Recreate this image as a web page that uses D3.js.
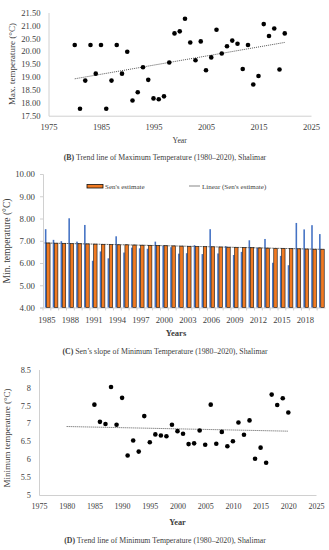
<!DOCTYPE html>
<html><head><meta charset="utf-8">
<script src="https://cdn.jsdelivr.net/npm/d3@7"></script>
<style>
html,body{margin:0;padding:0;background:#fff;}
svg text{font-family:"Liberation Serif","Times New Roman",serif;fill:#404040;}
</style></head>
<body><svg id="c" width="329" height="550"></svg>
<script>
// Panel B: maximum temperature 1980-2020
const yearsB = d3.range(1980, 2021);
const maxTemp = [20.24,17.77,18.86,20.24,19.13,20.24,17.77,18.86,20.24,19.13,
  19.98,18.09,18.41,19.38,18.89,18.17,18.14,18.25,19.56,20.69,
  20.77,21.26,20.34,19.65,20.38,19.26,19.76,20.83,19.91,20.19,
  20.41,20.29,19.31,20.24,18.71,19.04,21.05,20.59,20.88,19.29,20.69];
const trendB = [18.93, 20.34]; // 1980, 2020
const xTicksB = [1975,1985,1995,2005,2015,2025];
const yTicksB = [17.5,18,18.5,19,19.5,20,20.5,21,21.5];

// Panel C/D: minimum temperature 1985-2020
const yearsMin = d3.range(1985, 2021);
const minTemp = [7.52,7.04,6.98,8.01,6.96,7.71,6.10,6.52,6.21,7.20,
  6.47,6.69,6.66,6.64,6.96,6.78,6.71,6.42,6.44,6.80,
  6.40,7.52,6.43,6.76,6.36,6.50,7.02,6.68,7.08,6.01,
  6.32,5.90,7.80,7.51,7.70,7.30];
const sens = [6.90,6.89,6.88,6.87,6.87,6.86,6.85,6.84,6.83,6.82,
  6.82,6.81,6.80,6.79,6.78,6.78,6.77,6.76,6.75,6.74,
  6.74,6.73,6.72,6.71,6.70,6.70,6.69,6.68,6.67,6.66,
  6.66,6.65,6.64,6.63,6.62,6.62];
const yTicksC = [4,5,6,7,8,9,10];
const xLabelsC = [1985,1988,1991,1994,1997,2000,2003,2006,2009,2012,2015,2018];
const trendD = [6.91, 6.78]; // 1980, 2020
const trendYearsD = [1980, 2020];
const xTicksD = [1975,1980,1985,1990,1995,2000,2005,2010,2015,2020,2025];
const yTicksD = [5,5.5,6,6.5,7,7.5,8,8.5];

const svg = d3.select("#c");
const axisCol = "#d0d0d0";

function styleAxis(g, fs){
  g.selectAll(".domain").attr("stroke", axisCol);
  g.selectAll(".tick line").attr("stroke", axisCol);
  g.selectAll("text").attr("font-size", fs).attr("fill","#404040")
   .style("font-family",'"Liberation Serif","Times New Roman",serif');
}

// ---------- Panel B ----------
{
  const x = d3.scaleLinear().domain([1975,2025]).range([48.5,311]);
  const y = d3.scaleLinear().domain([17.5,21.5]).range([115.7,12.5]);
  const gy = svg.append("g").attr("transform","translate(48.5,0)")
    .call(d3.axisLeft(y).tickValues(yTicksB).tickFormat(d3.format(".2f")).tickSize(0).tickPadding(8));
  styleAxis(gy, 8.6);
  const gx = svg.append("g").attr("transform","translate(0,115.7)")
    .call(d3.axisBottom(x).tickValues(xTicksB).tickFormat(d3.format("d")).tickSize(0).tickPadding(8));
  styleAxis(gx, 8.6);
  svg.append("line").attr("x1",x(1980)).attr("x2",x(2020)).attr("y1",y(trendB[0])).attr("y2",y(trendB[1]))
    .attr("stroke","#555").attr("stroke-width",1).attr("stroke-dasharray","1,1");
  svg.append("g").selectAll("circle").data(yearsB).join("circle")
    .attr("cx",d=>x(d)).attr("cy",(d,i)=>y(maxTemp[i])).attr("r",2.3).attr("fill","#000");
  svg.append("text").attr("transform","translate(15,64) rotate(-90)").attr("text-anchor","middle")
    .attr("font-size",9).text("Max. temperature (°C)");
  svg.append("text").attr("x",x(2000)).attr("y",143).attr("text-anchor","middle").attr("font-size",7.8).text("Year");
  const cap = svg.append("text").attr("x",165).attr("y",160).attr("text-anchor","middle").attr("font-size",7.8);
  cap.append("tspan").attr("font-weight","bold").text("(B)");
  cap.append("tspan").text(" Trend line of Maximum Temperature (1980–2020), Shalimar");
}

// ---------- Panel C ----------
{
  const x = d3.scaleBand().domain(yearsMin).range([43,325]);
  const y = d3.scaleLinear().domain([4,10]).range([307.5,174]);
  const gy = svg.append("g").attr("transform","translate(43,0)")
    .call(d3.axisLeft(y).tickValues(yTicksC).tickFormat(d3.format(".2f")).tickSize(3).tickPadding(5));
  styleAxis(gy, 8.8);
  const gx = svg.append("g").attr("transform","translate(0,307.5)")
    .call(d3.axisBottom(x).tickValues(xLabelsC).tickFormat(d3.format("d")).tickSize(0).tickPadding(9));
  styleAxis(gx, 8.6);
  // category boundary ticks
  svg.append("g").selectAll("line").data(yearsMin).join("line")
    .attr("x1",d=>x(d)).attr("x2",d=>x(d)).attr("y1",307.5).attr("y2",310.5).attr("stroke",axisCol);
  const bw = x.bandwidth();
  svg.append("g").selectAll("rect").data(yearsMin).join("rect")
    .attr("x",d=>x(d)+bw*0.24).attr("width",bw*0.2)
    .attr("y",(d,i)=>y(minTemp[i])).attr("height",(d,i)=>y(4)-y(minTemp[i])).attr("fill","#4472C4");
  svg.append("g").selectAll("rect").data(yearsMin).join("rect")
    .attr("x",d=>x(d)+bw*0.46).attr("width",bw*0.44)
    .attr("y",(d,i)=>y(sens[i])).attr("height",(d,i)=>y(4)-y(sens[i]))
    .attr("fill","#F07A22").attr("stroke","#111").attr("stroke-width",0.6);
  // linear trend of Sen's estimate
  const xi = yearsMin.map((d,i)=>i);
  const mx = d3.mean(xi), my = d3.mean(sens);
  const b = d3.sum(xi,(v,i)=>(v-mx)*(sens[i]-my))/d3.sum(xi,v=>(v-mx)*(v-mx));
  const a = my - b*mx;
  const cx = d=>x(d)+bw/2;
  svg.append("line").attr("x1",cx(1985)-bw*0.3).attr("x2",cx(2020)+bw*0.3)
    .attr("y1",y(a-b*0.3)).attr("y2",y(a+b*35.3))
    .attr("stroke","#333").attr("stroke-width",0.8).attr("stroke-dasharray","1,0.6");
  // legend
  svg.append("rect").attr("x",87).attr("y",184.5).attr("width",16).attr("height",3.5)
    .attr("fill","#F07A22").attr("stroke","#111").attr("stroke-width",0.8);
  svg.append("text").attr("x",105).attr("y",188.5).attr("font-size",7).text("Sen's estimate");
  svg.append("line").attr("x1",189).attr("x2",200).attr("y1",186).attr("y2",186).attr("stroke","#555").attr("stroke-width",0.7);
  svg.append("text").attr("x",202).attr("y",188.5).attr("font-size",7).text("Linear (Sen's estimate)");
  svg.append("text").attr("transform","translate(10,241) rotate(-90)").attr("text-anchor","middle")
    .attr("font-size",9.5).text("Min.  temperature (°C)");
  svg.append("text").attr("x",176).attr("y",336).attr("text-anchor","middle").attr("font-size",8.6)
    .attr("font-weight","bold").text("Years");
  const cap = svg.append("text").attr("x",165).attr("y",354).attr("text-anchor","middle").attr("font-size",7.8);
  cap.append("tspan").attr("font-weight","bold").text("(C)");
  cap.append("tspan").text(" Sen’s slope of Minimum Temperature (1980–2020), Shalimar");
}

// ---------- Panel D ----------
{
  const x = d3.scaleLinear().domain([1975,2025]).range([39,316]);
  const y = d3.scaleLinear().domain([5,8.5]).range([495,369.5]);
  const gy = svg.append("g").attr("transform","translate(39,0)")
    .call(d3.axisLeft(y).tickValues(yTicksD).tickFormat(d3.format("")).tickSize(0).tickPadding(8));
  styleAxis(gy, 8.3);
  const gx = svg.append("g").attr("transform","translate(0,495)")
    .call(d3.axisBottom(x).tickValues(xTicksD).tickFormat(d3.format("d")).tickSize(0).tickPadding(8));
  styleAxis(gx, 8);
  svg.append("line").attr("x1",x(trendYearsD[0])).attr("x2",x(trendYearsD[1]))
    .attr("y1",y(trendD[0])).attr("y2",y(trendD[1]))
    .attr("stroke","#555").attr("stroke-width",1).attr("stroke-dasharray","1,1");
  svg.append("g").selectAll("circle").data(yearsMin).join("circle")
    .attr("cx",d=>x(d)).attr("cy",(d,i)=>y(minTemp[i])).attr("r",2.3).attr("fill","#000");
  svg.append("text").attr("transform","translate(10,438) rotate(-90)").attr("text-anchor","middle")
    .attr("font-size",9).text("Minimum temperature (°C)");
  svg.append("text").attr("x",x(2000)).attr("y",525).attr("text-anchor","middle").attr("font-size",8.3)
    .attr("font-weight","bold").text("Year");
  const cap = svg.append("text").attr("x",165).attr("y",543).attr("text-anchor","middle").attr("font-size",7.8);
  cap.append("tspan").attr("font-weight","bold").text("(D)");
  cap.append("tspan").text(" Trend line of Minimum Temperature (1980–2020), Shalimar");
}
</script></body></html>
